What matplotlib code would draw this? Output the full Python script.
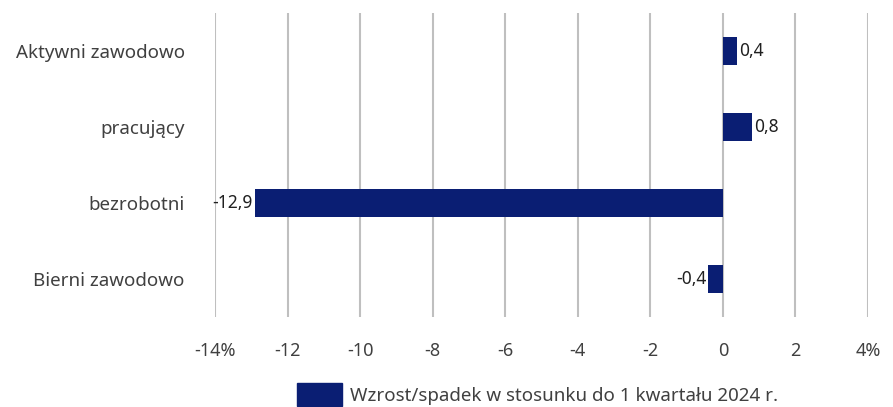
import matplotlib.pyplot as plt
from matplotlib.patches import Patch

# data
categories = ['Aktywni zawodowo', 'pracujący', 'bezrobotni', 'Bierni zawodowo']
values = [0.4, 0.8, -12.9, -0.4]
value_labels = ['0,4', '0,8', '-12,9', '-0,4']
xticks = [-14, -12, -10, -8, -6, -4, -2, 0, 2, 4]
xtick_labels = ['-14%', '-12', '-10', '-8', '-6', '-4', '-2', '0', '2', '4%']
legend_label = 'Wzrost/spadek w stosunku do 1 kwartału 2024 r.'

bar_color = '#0a1e73'
text_color = '#404040'
plt.rcParams['font.family'] = ['Noto Sans', 'DejaVu Sans']

fig = plt.figure(figsize=(8.93, 4.07), dpi=100)
ax = fig.add_axes([0.241, 0.221, 0.731, 0.747])

ypos = list(range(len(categories)))
ax.barh(ypos, values, height=0.36, color=bar_color, zorder=3)

# data labels
for y, v, lab in zip(ypos, values, value_labels):
    if v >= 0:
        ax.annotate(lab, (v, y), xytext=(1.5, 0), textcoords='offset points',
                    ha='left', va='center', fontsize=12.5, color='#202020')
    else:
        ax.annotate(lab, (v, y), xytext=(-1.5, 0), textcoords='offset points',
                    ha='right', va='center', fontsize=12.5, color='#202020')

ax.set_xlim(-14, 4)
ax.set_ylim(len(categories) - 0.5, -0.5)
ax.set_yticks(ypos)
ax.set_yticklabels(categories, fontsize=13.5, color=text_color)
ax.set_xticks(xticks)
ax.set_xticklabels(xtick_labels, fontsize=13, color=text_color)
ax.tick_params(axis='both', length=0)
ax.tick_params(axis='y', pad=22)
ax.tick_params(axis='x', pad=18)
ax.grid(axis='x', color='#bfbfbf', linewidth=1.5, zorder=0)
for s in ax.spines.values():
    s.set_visible(False)

fig.legend(handles=[Patch(color=bar_color)], labels=[legend_label],
           loc='center', bbox_to_anchor=(0.602, 0.03), frameon=False,
           fontsize=13.5, handlelength=2.4, handleheight=1.5,
           handletextpad=0.4, labelcolor=text_color)

fig.savefig('out.png', dpi=100)
